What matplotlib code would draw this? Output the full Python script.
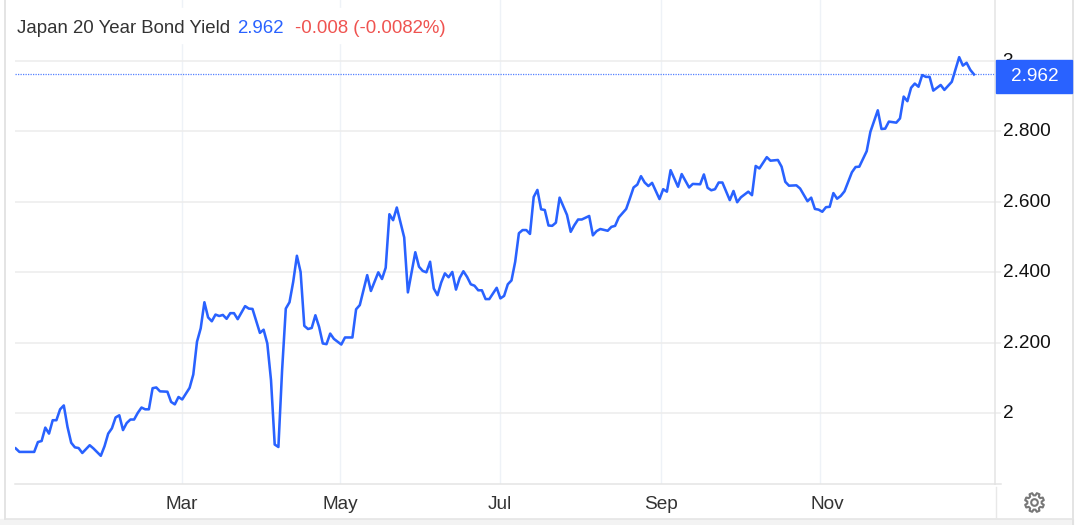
import numpy as np
import matplotlib
matplotlib.use('Agg')
import matplotlib.pyplot as plt
from matplotlib.patches import Rectangle, Polygon, Circle
from matplotlib.transforms import ScaledTranslation

# trading session number, counted from the first point on the chart
obs = [0, 1, 5, 6, 7, 8, 9, 10, 11, 12, 13, 14, 15, 16, 17, 18, 20, 21, 23, 24, 25, 26, 27, 28, 29, 30,
       31, 32, 33, 34, 35, 36, 37, 38, 39, 41, 42, 43, 44, 45, 47, 48, 49, 50, 51, 52, 53, 54, 55, 56,
       57, 58, 59, 60, 62, 63, 64, 66, 67, 68, 69, 70, 71, 72, 73, 74, 75, 76, 77, 78, 79, 80, 81, 82,
       83, 84, 85, 86, 88, 89, 91, 92, 93, 95, 96, 98, 99, 100, 101, 102, 103, 105, 106, 108, 109, 110,
       111, 112, 113, 114, 115, 116, 117, 118, 119, 120, 121, 122, 123, 124, 125, 126, 127, 128, 130,
       131, 132, 133, 134, 135, 136, 137, 138, 139, 140, 141, 142, 143, 144, 145, 146, 147, 149, 150,
       151, 152, 153, 155, 156, 157, 158, 160, 161, 162, 163, 165, 166, 167, 168, 169, 170, 171, 172,
       174, 175, 176, 177, 179, 180, 182, 183, 185, 186, 187, 188, 189, 190, 191, 193, 194, 195, 196,
       198, 199, 200, 201, 203, 204, 206, 207, 208, 209, 211, 212, 214, 215, 216, 217, 218, 219, 220,
       221, 222, 223, 224, 226, 227, 228, 230, 231, 233, 234, 235, 236, 238, 239, 240, 241, 242, 243,
       244, 245, 246, 247, 248, 250, 251, 253, 255, 256, 257, 258, 259]
yields = [1.900, 1.890, 1.890, 1.918, 1.921, 1.959, 1.942, 1.980, 1.980, 2.011, 2.022, 1.961, 1.916, 1.903,
          1.901, 1.887, 1.909, 1.900, 1.879, 1.906, 1.942, 1.957, 1.988, 1.994, 1.952, 1.972,
          1.982, 1.982, 2.001, 2.016, 2.011, 2.011, 2.071, 2.073, 2.062, 2.061, 2.032, 2.025, 2.046, 2.039,
          2.072, 2.110, 2.203, 2.241, 2.315, 2.272, 2.261, 2.280, 2.276, 2.279,
          2.268, 2.284, 2.284, 2.267, 2.304, 2.297, 2.296, 2.228, 2.237, 2.198, 2.094, 1.911, 1.904, 2.122,
          2.297, 2.315, 2.373, 2.447, 2.401, 2.248, 2.239, 2.242, 2.278, 2.245,
          2.198, 2.196, 2.226, 2.211, 2.195, 2.215, 2.215, 2.295, 2.307, 2.392, 2.347, 2.400, 2.381, 2.413,
          2.565, 2.548, 2.584, 2.499, 2.343, 2.457, 2.416, 2.404,
          2.400, 2.430, 2.354, 2.335, 2.371, 2.397, 2.386, 2.401, 2.351, 2.384, 2.403, 2.387, 2.366, 2.362,
          2.349, 2.349, 2.324, 2.324, 2.356,
          2.326, 2.333, 2.366, 2.377, 2.430, 2.511, 2.520, 2.520, 2.509, 2.614, 2.634, 2.579, 2.577, 2.533,
          2.532, 2.541, 2.612, 2.563, 2.515,
          2.534, 2.550, 2.550, 2.560, 2.505, 2.517, 2.523, 2.518, 2.529, 2.532, 2.556, 2.580, 2.610, 2.641,
          2.649, 2.673, 2.655, 2.645, 2.654,
          2.608, 2.636, 2.629, 2.690, 2.643, 2.679, 2.641, 2.651, 2.650, 2.678, 2.640, 2.633, 2.636, 2.655,
          2.655, 2.605, 2.631, 2.599, 2.613,
          2.629, 2.619, 2.702, 2.695, 2.727, 2.717, 2.719, 2.700, 2.657, 2.646, 2.647, 2.638, 2.602, 2.612,
          2.580, 2.578, 2.572, 2.585, 2.586,
          2.625, 2.609, 2.617, 2.630, 2.684, 2.699, 2.700, 2.744, 2.799, 2.860, 2.807, 2.808, 2.828, 2.825,
          2.837, 2.899, 2.886, 2.924, 2.936,
          2.927, 2.960, 2.955, 2.955, 2.916, 2.932, 2.918, 2.941, 3.011, 2.987, 2.995, 2.975, 2.962]

month_pos = [44.95, 87.7, 130.9, 174.4, 217.4]
month_labels = ['Mar', 'May', 'Jul', 'Sep', 'Nov']
y_ticks = [2, 2.2, 2.4, 2.6, 2.8, 3]
y_labels = ['2', '2.200', '2.400', '2.600', '2.800', '3']

W, H = 1076, 525
BLUE = '#2962ff'
GRID = '#ececec'
plt.rcParams['font.family'] = ['Liberation Sans', 'DejaVu Sans']

fig = plt.figure(figsize=(W / 100, H / 100), dpi=100)

# chart area runs from x=15 to x=995 and down to y=484 in pixels
ax = fig.add_axes([15 / W, 1 - 484 / H, 980 / W, 484 / H])
ax.set_xlim(-0.19, 264.68)
ax.set_ylim(1.7989, 3.1733)
ax.plot(obs, yields, color=BLUE, lw=1.85, solid_joinstyle='round', zorder=3)
ax.axhline(yields[-1], color=BLUE, lw=0.9, ls=(0, (1, 1)), alpha=0.8, zorder=2)

ax.set_yticks(y_ticks)
ax.set_yticklabels(y_labels)
ax.yaxis.tick_right()
ax.tick_params(axis='y', length=4.4, width=1.1, color=GRID, pad=1, labelsize=13.7, labelcolor='#111111')
ax.set_xticks(month_pos)
ax.set_xticklabels(month_labels)
ax.tick_params(axis='x', length=0, pad=8.8, labelsize=13.7, labelcolor='#333333')
ax.grid(axis='y', color=GRID, lw=1.1, zorder=1)
ax.grid(axis='x', color='#eef2f7', lw=1.0, zorder=1)
for side in ['top', 'left']:
    ax.spines[side].set_visible(False)
ax.spines['right'].set_color('#e4e4e4')
ax.spines['right'].set_linewidth(1.1)
ax.spines['bottom'].set_color('#e4e4e4')
ax.spines['bottom'].set_linewidth(1.1)

# y labels sit a little above their gridlines, Nov is pushed right of its gridline
for lab in ax.get_yticklabels():
    lab.set_transform(lab.get_transform() + ScaledTranslation(0, 1.5 / 100, fig.dpi_scale_trans))
nov = ax.get_xticklabels()[-1]
nov.set_transform(nov.get_transform() + ScaledTranslation(7.5 / 100, 0, fig.dpi_scale_trans))

# overlay in pixel coordinates for the frame, the header and the price tag
ov = fig.add_axes([0, 0, 1, 1], facecolor='none')
ov.set_xlim(0, W)
ov.set_ylim(H, 0)
ov.axis('off')
ov.add_patch(Rectangle((15, 8), 440, 35, color='white', zorder=1))
ov.add_patch(Rectangle((0, 519), 1073, 6, color='#f3f3f3', zorder=1))
ov.plot([4.5, 4.5], [0, 519], color='#dddddd', lw=1.1)
ov.plot([1072.5, 1072.5], [0, 525], color='#dddddd', lw=1.1)
ov.plot([4.5, 1072.5], [519, 519], color='#e4e4e4', lw=1.1)
ov.plot([995.5, 995.5], [487, 518], color='#e8e8e8', lw=1.0)
ov.plot([995, 1001], [484, 484], color='#e4e4e4', lw=1.1)

ov.text(17, 28.5, 'Japan 20 Year Bond Yield', color='#333333', fontsize=13.45, va='center', zorder=2)
ov.text(237, 28.5, '2.962', color=BLUE, fontsize=13.45, va='center', zorder=2)
ov.text(295, 28.5, '-0.008 (-0.0082%)', color='#ef5350', fontsize=13.45, va='center', zorder=2)

ov.add_patch(Rectangle((996, 60), 76, 33, color=BLUE, zorder=2))
ov.text(1034.5, 76.5, '2.962', color='white', fontsize=13.7, ha='center', va='center', zorder=3)

# settings gear
ang = np.linspace(0, 2 * np.pi, 8, endpoint=False) + np.pi / 8
gear = []
for t in ang:
    for da, r in [(-0.26, 7.2), (-0.15, 9.6), (0.15, 9.6), (0.26, 7.2)]:
        gear.append((1034.5 + r * np.cos(t + da), 502.5 + r * np.sin(t + da)))
ov.add_patch(Polygon(gear, closed=True, fill=False, ec='#777777', lw=1.5, joinstyle='round', zorder=2))
ov.add_patch(Circle((1034.5, 502.5), 3.3, fill=False, ec='#777777', lw=1.5, zorder=2))

fig.savefig('out.png', dpi=100)
